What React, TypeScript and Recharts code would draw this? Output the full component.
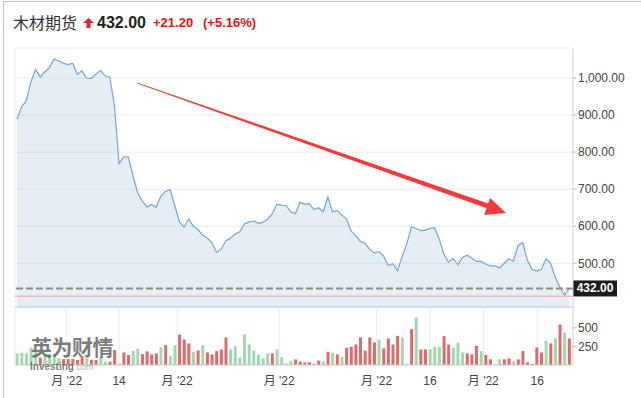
import { AreaChart, Area, BarChart, Bar, Cell, XAxis, YAxis, CartesianGrid, ReferenceLine } from 'recharts';

// daily closes
const closes = [
  889, 923, 938, 990, 1023, 1003, 1017, 1028, 1051, 1046,
  1040, 1036, 1040, 1010, 1019, 1000, 999, 1010, 1020, 1006,
  1003, 925, 769, 787, 787, 736, 690, 668, 652, 659,
  651, 681, 694, 699, 656, 612, 598, 620, 600, 591,
  576, 568, 556, 530, 538, 560, 568, 579, 585, 606,
  611, 614, 608, 611, 619, 633, 659, 657, 656, 639,
  634, 665, 659, 661, 645, 650, 639, 679, 639, 642,
  630, 620, 587, 574, 559, 554, 538, 528, 531, 520,
  494, 499, 480, 518, 552, 598, 594, 588, 589, 594,
  596, 565, 525, 503, 513, 496, 516, 522, 514, 505,
  505, 498, 493, 493, 488, 500, 512, 506, 548, 556,
  508, 484, 479, 484, 512, 500, 462, 436, 414, 432,
];

const volumes = [
  156, 165, 156, 232, 180, 100, 130, 150, 120, 90,
  80, 80, 80, 67, 120, 90, 70, 67, 110, 45,
  45, 200, 10, 169, 134, 192, 218, 147, 183, 143,
  156, 236, 267, 120, 267, 410, 343, 290, 178, 196,
  267, 169, 143, 187, 209, 370, 209, 254, 100, 410,
  276, 196, 143, 89, 156, 156, 209, 103, 20, 58,
  76, 45, 36, 36, 22, 58, 45, 178, 165, 143,
  111, 232, 245, 276, 370, 192, 370, 303, 343, 223,
  357, 276, 392, 370, 20, 481, 637, 209, 209, 209,
  245, 245, 388, 276, 232, 303, 169, 156, 143, 258,
  187, 134, 76, 5, 76, 76, 89, 53, 76, 187,
  36, 13, 236, 169, 325, 290, 357, 544, 437, 357,
];

// u = up day (green), d = down day (red)
const volumeSide = (
  'uuuuuduuuudddddudduudd' +
  'ddduudddduduudddududdd' +
  'dduuuuuuuuuduuuuddddud' +
  'udududddddddudddduudud' +
  'duuudduuudddudduuddudd' +
  'ddddudududdduudddddu'
).split('');

const monthTicks = [10.7, 22, 34.5, 56.5, 77.5, 89, 100.5, 112.1];
const monthLabels = ["月 '22", '14', "月 '22", "月 '22", "月 '22", '16', "月 '22", '16'];
const priceTicks = [500, 600, 700, 800, 900, 1000];
const volumeTicks = [250, 500];
const lastPrice = 432;
const prevClose = 410.8;

const priceData = closes.map((c, i) => ({ i, close: c }));
const volumeData = volumes.map((v, i) => ({ i, volume: v, side: volumeSide[i] }));

const xDomain: [number, number] = [-0.43, 119.83];
const font = "'Liberation Sans', Arial, 'Noto Sans CJK SC', sans-serif";
const axisTick = { fontFamily: font, fontSize: 12, fill: '#444' };

function LastPriceTag(props: any) {
  const vb = props.viewBox;
  if (!vb) return null;
  const x = vb.x + vb.width;
  return (
    <g>
      <rect x={x} y={vb.y - 8} width={44} height={16} fill="#1c1c1c" />
      <text x={x + 22} y={vb.y + 4} textAnchor="middle" fill="#fff" fontFamily={font} fontSize={12} fontWeight="bold">
        {lastPrice.toFixed(2)}
      </text>
    </g>
  );
}

export default function App() {
  return (
    <div style={{ position: 'absolute', left: 0, top: 0, width: 641, height: 398, background: '#fff', overflow: 'hidden' }}>
      <div style={{ position: 'absolute', left: 3, top: 1, width: 640, height: 400, borderLeft: '1px solid #c4c4c4', borderTop: '1px solid #c4c4c4' }} />

      {/* header */}
      <div style={{ position: 'absolute', left: 13, top: 12, fontFamily: "'Noto Sans CJK SC', sans-serif", fontSize: 16, lineHeight: '20px', color: '#333' }}>木材期货</div>
      <svg style={{ position: 'absolute', left: 83, top: 18 }} width={11} height={10}>
        <polygon points="5.5,0 11,5 7.5,5 7.5,10 3.5,10 3.5,5 0,5" fill="#e8202a" />
      </svg>
      <div style={{ position: 'absolute', left: 97, top: 13, fontFamily: font, fontSize: 16, fontWeight: 'bold', lineHeight: '20px', color: '#222' }}>432.00</div>
      <div style={{ position: 'absolute', left: 153, top: 15, fontFamily: font, fontSize: 13, fontWeight: 'bold', lineHeight: '16px', color: '#f01010' }}>+21.20</div>
      <div style={{ position: 'absolute', left: 203, top: 15, fontFamily: font, fontSize: 13, fontWeight: 'bold', lineHeight: '16px', color: '#f01010' }}>(+5.16%)</div>

      {/* price */}
      <div style={{ position: 'absolute', left: 0, top: 0 }}>
        <AreaChart width={641} height={310} data={priceData} margin={{ top: 48, right: 0, left: 15, bottom: 0 }}>
          <CartesianGrid stroke="#ececec" />
          <XAxis dataKey="i" type="number" domain={xDomain} allowDataOverflow ticks={monthTicks} interval={0}
            tick={false} tickLine={false} height={3} axisLine={{ stroke: '#c8c8c8' }} />
          <YAxis orientation="right" width={68} domain={[382, 1081]} allowDataOverflow ticks={priceTicks} interval={0}
            tick={axisTick} tickSize={3} tickMargin={2} axisLine={{ stroke: '#dcdcdc' }} tickLine={{ stroke: '#bbb' }}
            tickFormatter={(v: number) => v.toLocaleString('en-US', { minimumFractionDigits: 2, maximumFractionDigits: 2 })} />
          <Area type="linear" dataKey="close" stroke="#72a7d6" strokeWidth={1.2} fill="#a9c6de" fillOpacity={0.3} isAnimationActive={false} dot={false} activeDot={false} />
          <ReferenceLine y={prevClose} stroke="#f2b5b5" strokeWidth={1.5} />
          <ReferenceLine y={lastPrice} stroke="#8c8c8c" strokeWidth={2} strokeDasharray="7 3" label={<LastPriceTag />} />
        </AreaChart>
      </div>

      {/* volume */}
      <div style={{ position: 'absolute', left: 0, top: 307 }}>
        <BarChart width={641} height={88} data={volumeData} margin={{ top: 0, right: 0, left: 15, bottom: 0 }}>
          <CartesianGrid horizontal={false} stroke="#ececec" />
          <XAxis dataKey="i" type="number" domain={xDomain} allowDataOverflow ticks={monthTicks} interval={0}
            height={30} tickSize={0} tickMargin={11} tick={axisTick} axisLine={{ stroke: '#c8c8c8' }}
            tickFormatter={(v: number) => monthLabels[monthTicks.indexOf(v)] ?? ''} />
          <YAxis orientation="right" width={68} domain={[0, 780]} allowDataOverflow ticks={volumeTicks} interval={0}
            tick={axisTick} tickSize={3} tickMargin={2} axisLine={{ stroke: '#dcdcdc' }} tickLine={{ stroke: '#bbb' }} />
          <Bar dataKey="volume" barSize={3} isAnimationActive={false}>
            {volumeData.map((d) => (
              <Cell key={d.i} fill={d.side === 'u' ? '#a3d7b2' : '#e06a6a'} />
            ))}
          </Bar>
        </BarChart>
      </div>

      {/* watermark */}
      <div style={{ position: 'absolute', left: 31, top: 335, fontFamily: "'Noto Sans CJK SC', sans-serif", fontWeight: 'bold', fontSize: 21, lineHeight: '22px', color: 'rgba(80,80,80,0.75)', letterSpacing: -0.5 }}>英为财情</div>
      <div style={{ position: 'absolute', left: 30, top: 361, fontFamily: font, fontWeight: 'bold', fontSize: 10, lineHeight: '11px', color: 'rgba(80,80,80,0.75)' }}>
        Investing<span style={{ fontWeight: 'normal', fontSize: 9, color: 'rgba(120,120,120,0.6)' }}>.com</span>
      </div>

      {/* hand drawn trend arrow */}
      <svg style={{ position: 'absolute', left: 0, top: 0, pointerEvents: 'none' }} width={641} height={398}>
        <polygon points="137,82.6 137.3,83.6 488.2,208.8 489.5,203.9" fill="#f43a3a" />
        <polygon points="506,213 490.1,197.9 484.1,214.9" fill="#f43a3a" />
      </svg>
    </div>
  );
}
